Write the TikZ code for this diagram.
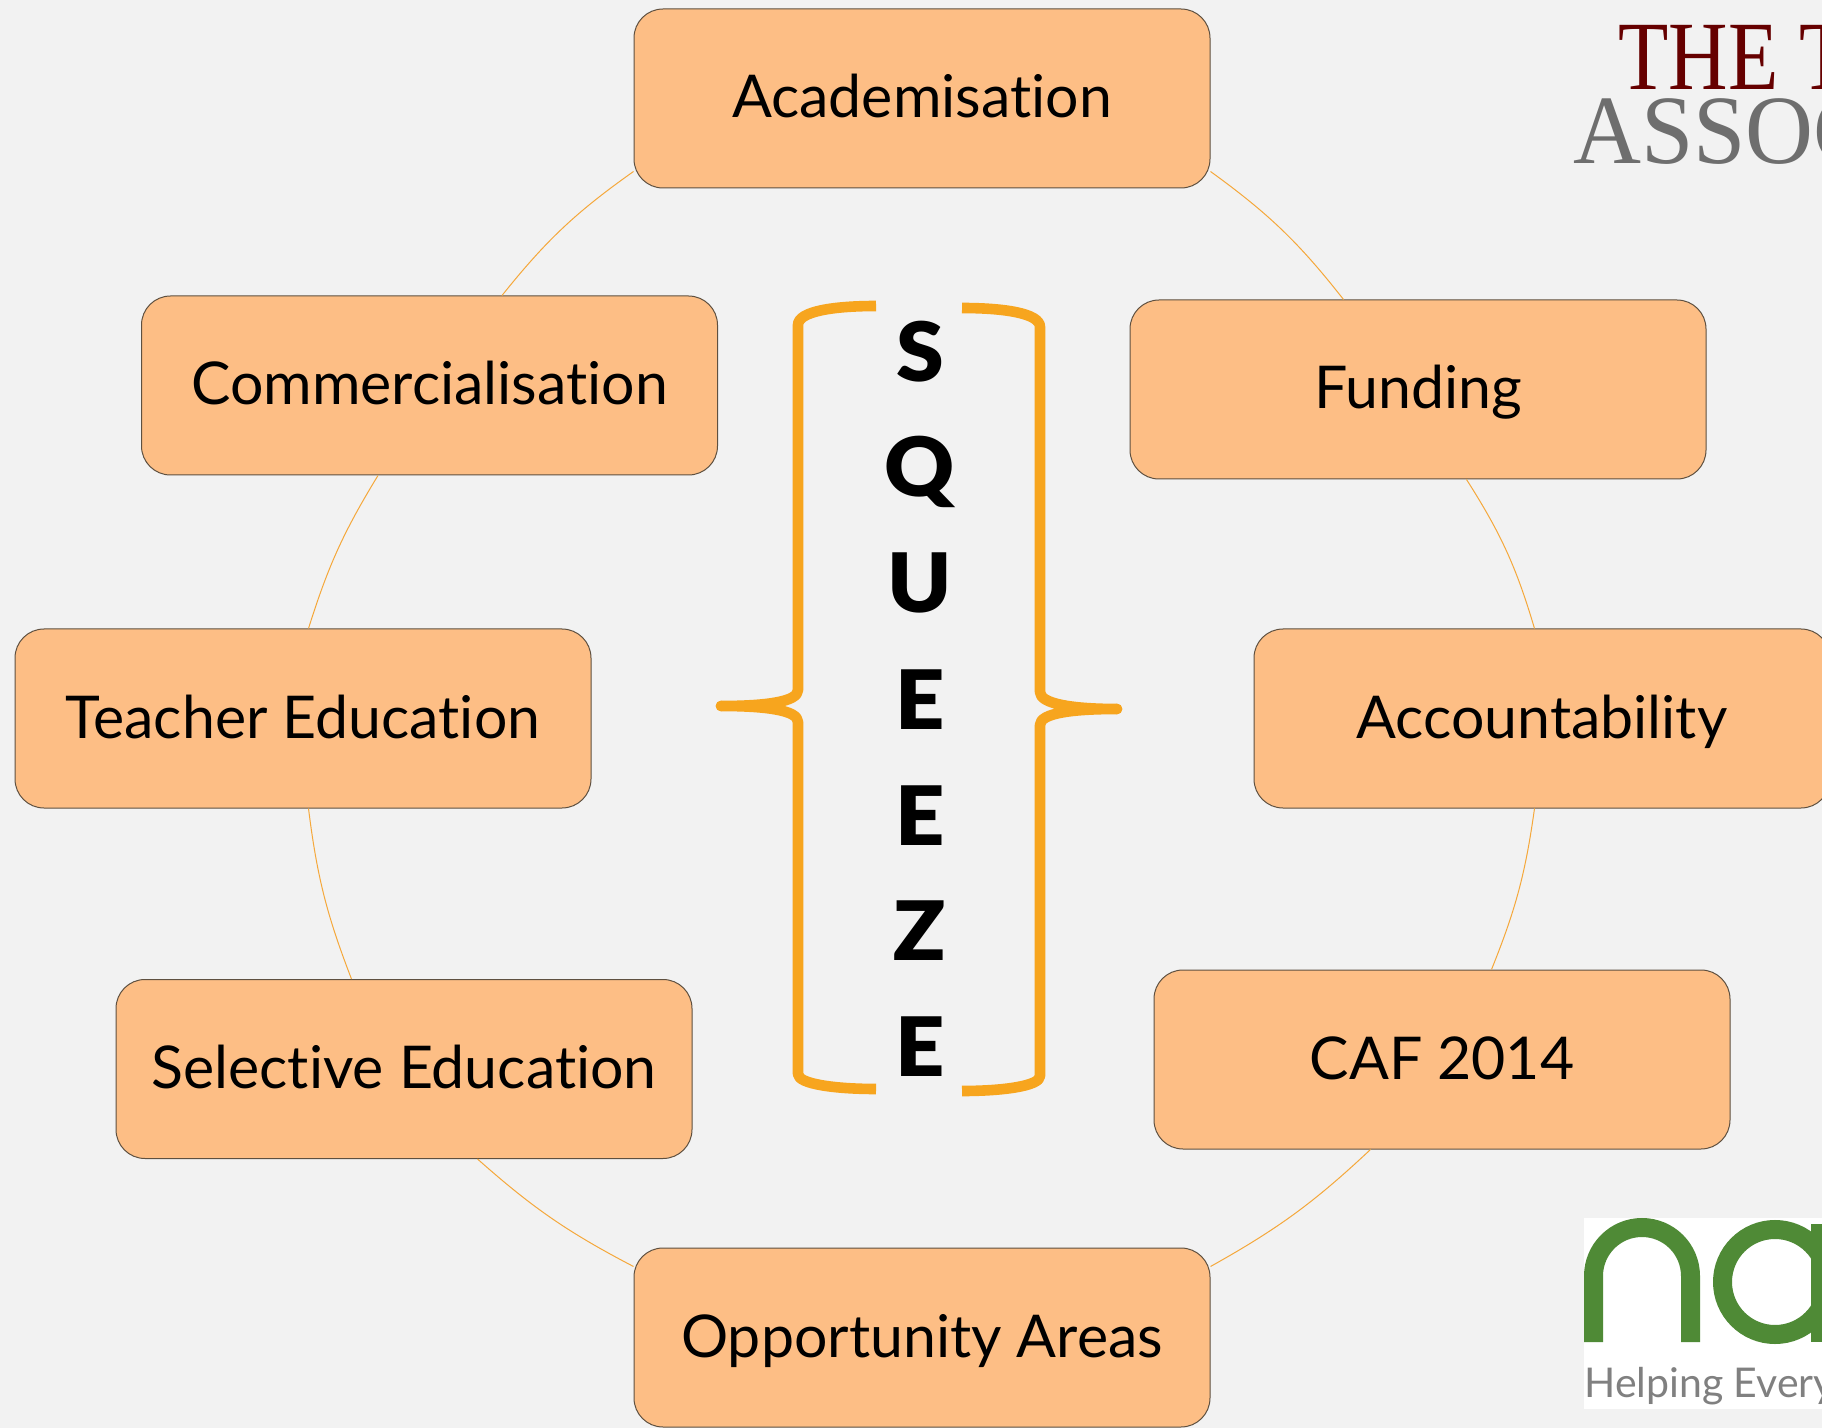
\documentclass[tikz,border=0pt]{standalone}
\usepackage{fontspec}
\setmainfont[Ligatures=NoCommon]{Lato}
\newfontfamily\heavyfont[FakeStretch=1.05]{Lato Black}
\newfontfamily\logoserif[FakeStretch=0.84]{Liberation Serif}
\newfontfamily\logoserifb[FakeStretch=0.96]{Liberation Serif}
\newfontfamily\tagfont[Ligatures=NoCommon]{Lato}
\definecolor{bgc}{HTML}{F2F2F2}
\definecolor{boxc}{HTML}{FDBE85}
\definecolor{edgec}{HTML}{5E5040}
\definecolor{orangec}{HTML}{F7A51E}
\definecolor{arcc}{HTML}{F5A83A}
\definecolor{logored}{HTML}{660000}
\definecolor{logogrey}{HTML}{6E6E6E}
\definecolor{logogreen}{HTML}{4F8A36}
\definecolor{taggrey}{HTML}{808080}
\tikzset{
  box/.style={draw=edgec,line width=0.5pt,fill=boxc,rounded corners=14.5pt,minimum width=288pt,minimum height=89.5pt,inner sep=0pt,text height=19.5pt,text depth=0pt,font=\fontsize{29.5}{30}\selectfont,text=black},
  arcline/.style={draw=arcc,line width=0.5pt},
  letter/.style={anchor=base,inner sep=0pt,font=\fontsize{41}{41}\heavyfont,text=black},
  brace/.style={draw=orangec,line width=5.3pt,line join=round},
  logotext/.style={anchor=base west,inner sep=0pt}
}
\begin{document}
\begin{tikzpicture}[x=0.5pt,y=-0.5pt]
\clip (0,0) rectangle (1822,1428);
\useasboundingbox (0,0) rectangle (1822,1428);
\fill[bgc] (0,0) rectangle (1822,1428);

\node[box] (acad) at (922,98.5) {Academisation};
\node[box] (comm) at (429.5,385.5) {Commercialisation};
\node[box] (fund) at (1418,389.5) {Funding};
\node[box] (teach) at (303,718.5) {Teacher Education};
\node[box] (acc) at (1542,718.5) {Accountability};
\node[box] (sel) at (404,1069) {Selective Education};
\node[box] (caf) at (1442,1059.5) {CAF 2014};
\node[box] (opp) at (922,1337.5) {Opportunity Areas};

\path[arcline] ([shift={(0,-17)}]acad.south west) to[bend right=8] ([shift={(361,0)}]comm.north west);
\path[arcline] ([shift={(0,-17)}]acad.south east) to[bend left=8] ([shift={(214,0)}]fund.north west);
\path[arcline] ([shift={(337,0)}]fund.south west) to[bend left=8] ([shift={(281,0)}]acc.north west);
\path[arcline] ([shift={(281,0)}]acc.south west) to[bend left=7] ([shift={(338,0)}]caf.north west);
\path[arcline] ([shift={(217,0)}]caf.south west) to[bend left=7] ([shift={(0,19)}]opp.north east);
\path[arcline] ([shift={(0,19)}]opp.north west) to[bend left=7] ([shift={(362,0)}]sel.south west);
\path[arcline] ([shift={(236,0)}]sel.north west) to[bend left=7] ([shift={(294,0)}]teach.south west);
\path[arcline] ([shift={(294,0)}]teach.north west) to[bend left=7] ([shift={(237,0)}]comm.south west);

\node[letter] (l1) at (920,381.5) {S};
\node[letter] (l2) at (920,497) {Q};
\node[letter] (l3) at (920,613) {U};
\node[letter] (l4) at (920,729) {E};
\node[letter] (l5) at (920,845) {E};
\node[letter] (l6) at (920,960) {Z};
\node[letter] (l7) at (920,1076) {E};

\path[brace] (876,306) .. controls (835,306) and (798,311) .. (798,325) -- (798,690)
  .. controls (798,702) and (765,706) .. (721,706)
  .. controls (765,706) and (798,710) .. (798,722) -- (798,1074)
  .. controls (798,1084) and (835,1089) .. (876,1089);
\path[brace] (962,308) .. controls (1003,308) and (1040,313) .. (1040,327) -- (1040,692)
  .. controls (1040,704) and (1073,709) .. (1117,709)
  .. controls (1073,709) and (1040,713) .. (1040,725) -- (1040,1076)
  .. controls (1040,1086) and (1003,1091) .. (962,1091);
\fill[orangec] (721,706) circle (5.3);
\fill[orangec] (1117,709) circle (5.3);

\node[logotext,text=logored,font=\fontsize{49}{49}\logoserif] (logoa) at (1618,90) {THE T};
\node[logotext,text=logogrey,font=\fontsize{49}{49}\logoserifb] (logob) at (1573,164) {ASSOC};

\fill[white] (1584,1218) rectangle (1822,1409);
\draw[logogreen,line width=9.5pt] (1593.5,1342) -- (1593.5,1276) arc[start angle=180,end angle=360,radius=48.5] -- (1690.5,1342);
\draw[logogreen,line width=9.5pt] (1775,1282) circle (52.5);
\fill[logogreen] (1811,1224) rectangle (1822,1342);
\node[logotext,text=taggrey,font=\fontsize{20.5}{21}\tagfont] (tag) at (1584,1397) {Helping Every};
\end{tikzpicture}
\end{document}
